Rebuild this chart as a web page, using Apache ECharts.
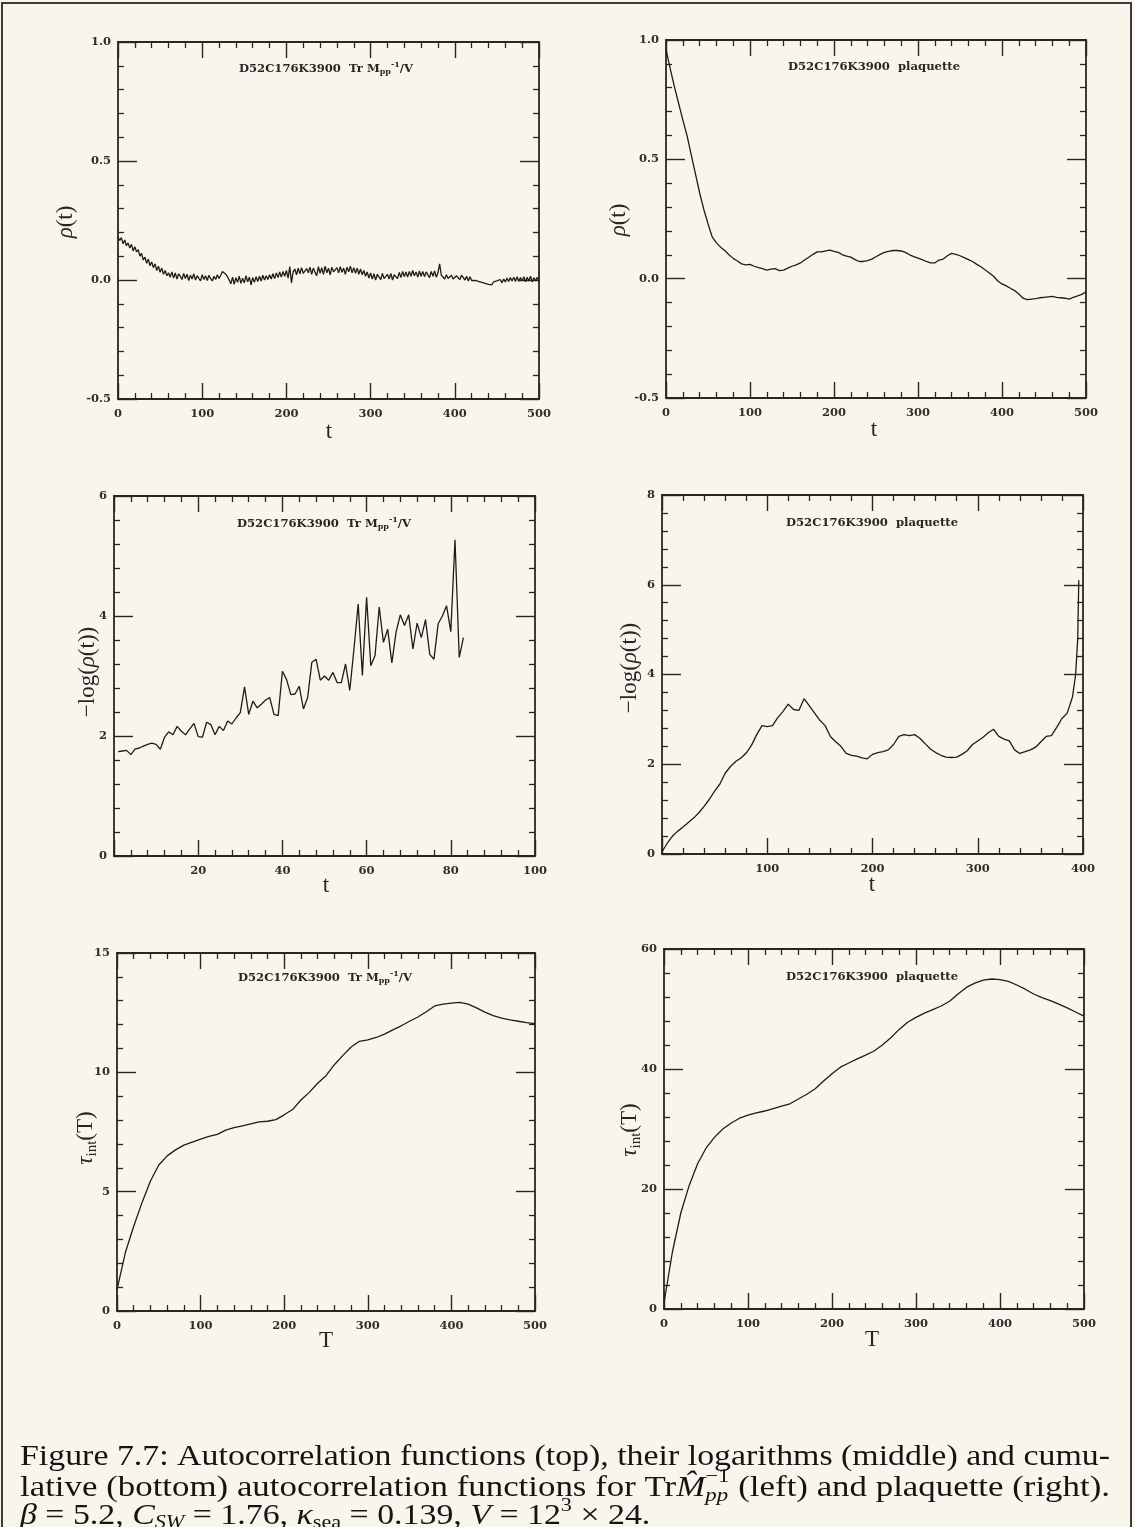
<!DOCTYPE html>
<html><head><meta charset="utf-8">
<script src="https://cdn.jsdelivr.net/npm/echarts@6/dist/echarts.min.js"></script>
<style>html,body{margin:0;padding:0;background:#f8f6ec;}#c{width:1134px;height:1527px;}</style>
</head><body><div id="c"></div>
<script>
// ---------- DATA ----------
// Top-left: autocorrelation of Tr M_pp^-1/V
const tTrM = [0,2,4,6,8,10,12,14,16,18,20,22,24,26,28,30,32,34,36,38,40,42,44,46,48,50,52,54,56,58,60,
62,64,66,68,70,72,74,76,78,80,82,84,86,88,90,92,94,96,98,100,102,104,106,108,110,112,114,116,118,120,
122,124,126,128,130,132,
134,136,138,140,142,144,146,148,150,152,154,156,158,160,162,164,166,168,170,172,174,176,178,180,
182,184,186,188,190,192,194,196,198,200,202,204,206,208,
210,212,214,216,218,220,222,224,226,228,230,232,234,236,238,240,242,244,246,248,250,252,254,256,258,260,262,264,266,268,270,272,274,276,278,280,282,284,286,288,290,
292,294,296,298,300,302,304,306,308,310,312,314,316,318,320,322,324,326,328,330,332,334,336,338,340,
342,344,346,348,350,352,354,356,358,360,362,364,366,368,370,372,374,376,378,380,382,384,
386,388,390,392,394,396,398,400,402,404,406,408,410,412,414,416,418,420,
422,424,426,428,430,432,434,436,438,440,442,444,446,448,450,
452,454,456,458,460,462,464,466,468,470,472,474,476,478,480,482,484,486,488,490,492,494,496,498,500];
const rhoTrM = [0.182,0.166,0.178,0.152,0.168,0.144,0.156,0.134,0.150,0.122,0.140,0.118,0.128,0.100,0.112,0.084,0.096,0.070,0.088,0.060,0.076,0.052,0.068,0.040,0.058,0.032,0.050,0.024,0.040,0.018,0.030,
0.012,0.034,0.008,0.030,0.004,0.026,0.016,0.002,0.028,0.006,0.024,-0.002,0.020,0.004,0.026,0.000,0.018,0.010,-0.004,0.022,0.002,0.018,-0.002,0.020,0.006,-0.004,0.016,0.002,0.022,0.006,
0.020,0.036,0.044,0.024,0.014,0.000,
-0.016,0.012,-0.018,0.010,-0.010,0.016,-0.014,0.008,-0.012,0.018,-0.008,0.012,-0.020,0.010,-0.010,0.014,-0.006,0.016,-0.004,0.020,0.000,0.018,0.002,0.022,
0.004,0.026,0.006,0.030,0.010,0.034,0.012,0.036,0.016,0.040,0.008,0.056,-0.012,0.034,
0.046,0.022,0.050,0.026,0.052,0.028,0.020,0.048,0.030,0.054,0.024,0.050,0.032,0.018,0.056,0.028,0.052,0.024,0.058,0.030,0.050,0.022,0.054,0.034,0.026,0.052,0.030,0.056,0.032,0.050,0.024,0.054,0.034,0.058,0.030,0.052,0.028,0.050,0.024,0.046,0.022,
0.040,0.016,0.034,0.008,0.030,0.004,0.026,0.000,0.024,0.030,0.002,0.028,0.006,-0.002,0.024,0.004,0.028,0.000,0.022,0.030,0.006,0.032,0.010,0.036,0.014,
0.034,0.012,0.036,0.016,0.040,0.018,0.034,0.012,0.038,0.016,0.036,0.014,0.034,0.040,0.010,0.036,0.016,0.038,0.012,0.030,0.068,0.020,
0.024,0.004,0.022,0.006,0.000,0.020,0.004,-0.002,0.018,0.022,0.002,0.020,0.024,0.000,0.016,-0.004,0.014,-0.002,
0.004,-0.002,0.000,-0.006,-0.002,-0.010,-0.006,-0.014,-0.010,-0.018,-0.012,-0.020,-0.008,-0.016,-0.004,
-0.012,0.002,-0.012,0.004,-0.008,0.008,-0.006,0.010,-0.004,0.012,-0.006,0.014,-0.006,0.010,-0.004,0.014,-0.008,0.012,-0.004,0.016,-0.008,0.010,-0.004,0.012,-0.008];

// Top-right: autocorrelation of plaquette
const tPlaq = [0,5,10,15,20,25,30,35,40,45,50,55,60,65,70,75,80,85,90,95,100,105,110,115,120,125,130,135,140,145,150,155,160,165,170,175,180,185,190,195,200,205,210,215,220,225,230,235,240,245,250,255,260,265,270,275,280,285,290,295,300,305,310,315,320,325,330,335,340,345,350,355,360,365,370,375,380,385,390,395,400,405,410,415,420,425,430,435,440,445,450,455,460,465,470,475,480,485,490,495,500];
const rhoPlaq = [0.960,0.880,0.805,0.735,0.665,0.600,0.520,0.440,0.360,0.290,
0.230,0.175,0.150,0.132,0.118,0.100,0.085,0.074,0.062,0.058,
0.060,0.052,0.046,0.042,0.036,0.040,0.042,0.034,0.036,0.044,
0.052,0.058,0.066,0.078,0.090,0.102,0.112,0.112,0.116,0.120,
0.114,0.110,0.100,0.094,0.090,0.080,0.072,0.072,0.076,0.082,
0.092,0.102,0.110,0.114,0.118,0.118,0.116,0.110,0.100,0.092,
0.086,0.080,0.072,0.066,0.066,0.078,0.082,0.096,0.106,0.102,
0.096,0.088,0.080,0.072,0.060,0.050,0.036,0.024,0.010,-0.010,
-0.022,-0.030,-0.040,-0.050,-0.064,-0.082,-0.088,-0.086,-0.084,-0.080,
-0.078,-0.076,-0.074,-0.078,-0.080,-0.082,-0.086,-0.078,-0.072,-0.066,
-0.055];

// Middle-left: -log(rho) of Tr M
const tLogTrM = [1,2,3,4,5,6,7,8,9,10,11,12,13,14,15,16,17,18,19,20,21,22,23,24,25,26,27,28,29,30,31,32,33,34,35,36,37,38,39,40,41,42,43,44,45,46,47,48,49,50,51,52,53,54,55,56,57,58,59,60,61,62,63,64,65,66,67,68,69,70,71,72,73,74,75,76,77,78,79,80,81,82,83];
const logTrM = [1.74,1.75,1.76,1.69,1.78,1.80,1.83,1.86,1.88,1.86,
1.78,1.98,2.07,2.02,2.16,2.08,2.02,2.12,2.21,1.99,
1.98,2.23,2.19,2.02,2.16,2.09,2.25,2.20,2.30,2.39,
2.82,2.36,2.58,2.47,2.53,2.60,2.64,2.36,2.34,3.08,
2.94,2.69,2.70,2.83,2.45,2.64,3.23,3.28,2.93,3.00,
2.93,3.06,2.89,2.89,3.20,2.76,3.45,4.20,3.01,4.31,
3.17,3.34,4.15,3.56,3.78,3.22,3.73,4.02,3.84,4.02,
3.45,3.88,3.64,3.94,3.36,3.28,3.87,4.00,4.17,3.74,
5.27,3.31,3.64];

// Middle-right: -log(rho) of plaquette
const tLogPlaq = [0,5,10,15,20,25,30,35,40,45,50,55,60,65,70,75,80,85,90,95,100,105,110,115,120,125,130,135,140,145,150,155,160,165,170,175,180,185,190,195,200,205,210,215,220,225,230,235,240,245,250,255,260,265,270,275,280,285,290,295,300,305,310,315,320,325,330,335,340,345,350,355,360,365,370,375,380,385,390,393,395,396];
const logPlaq = [0.05,0.24,0.40,0.51,0.60,0.70,0.80,0.92,1.06,1.22,
1.40,1.56,1.80,1.95,2.06,2.14,2.25,2.42,2.66,2.86,
2.84,2.86,3.04,3.18,3.34,3.22,3.20,3.46,3.30,3.14,
2.98,2.86,2.62,2.50,2.40,2.24,2.20,2.18,2.14,2.12,
2.22,2.26,2.28,2.32,2.44,2.62,2.66,2.64,2.66,2.58,
2.46,2.34,2.26,2.20,2.16,2.15,2.16,2.22,2.30,2.44,
2.52,2.60,2.70,2.78,2.62,2.56,2.52,2.32,2.24,2.28,
2.32,2.38,2.50,2.62,2.64,2.82,3.02,3.14,3.50,4.00,4.80,6.10];

// Bottom: integrated autocorrelation time
const tCum = [0,10,20,30,40,50,60,70,80,90,100,110,120,130,140,150,160,170,180,190,200,210,220,230,240,250,260,270,280,290,300,310,320,330,340,350,360,370,380,390,400,410,420,430,440,450,460,470,480,490,500];
const tauTrM = [0.90,2.45,3.55,4.55,5.45,6.12,6.50,6.75,6.95,7.08,
7.20,7.32,7.40,7.58,7.68,7.76,7.84,7.92,7.95,8.02,
8.22,8.44,8.84,9.16,9.54,9.86,10.32,10.70,11.06,11.30,
11.36,11.46,11.60,11.78,11.95,12.14,12.32,12.54,12.78,12.86,
12.90,12.93,12.86,12.70,12.52,12.38,12.27,12.20,12.14,12.08,12.04];
const tauPlaq = [1.0,9.5,16.0,20.6,24.2,26.8,28.6,30.0,31.0,31.8,
32.3,32.7,33.0,33.4,33.8,34.2,35.0,35.8,36.7,38.0,
39.2,40.3,41.0,41.7,42.3,43.0,44.0,45.2,46.6,47.8,
48.6,49.3,49.9,50.5,51.3,52.5,53.6,54.3,54.8,55.0,
54.9,54.6,54.0,53.3,52.5,51.9,51.4,50.8,50.2,49.5,48.8];

// Tick ranges [min, max, interval]
const xRange500 = [0, 500, 100];
const xRange100 = [0, 100, 20];
const xRange400 = [0, 400, 100];
const yRangeRho = [-0.5, 1, 0.5];
const yRangeLogTrM = [0, 6, 2];
const yRangeLogPlaq = [0, 8, 2];
const yRangeTauTrM = [0, 15, 5];
const yRangeTauPlaq = [0, 60, 20];

// ---------- LAYOUT ----------
const INK = '#262626';
const fonts = {
  t:  {fontFamily:'DejaVu Serif', fontWeight:'bold', fontStyle:'normal', fontSize:11.6},
  ts: {fontFamily:'DejaVu Serif', fontWeight:'bold', fontStyle:'normal', fontSize:8},
  n:  {fontFamily:'Liberation Serif', fontWeight:'normal', fontStyle:'normal', fontSize:23},
  ni: {fontFamily:'Liberation Serif', fontWeight:'normal', fontStyle:'italic', fontSize:23},
  ns: {fontFamily:'Liberation Serif', fontWeight:'normal', fontStyle:'normal', fontSize:15},
  c:  {fontFamily:'Liberation Serif', fontWeight:'normal', fontStyle:'normal', fontSize:29},
  ci: {fontFamily:'Liberation Serif', fontWeight:'normal', fontStyle:'italic', fontSize:29},
  cs: {fontFamily:'Liberation Serif', fontWeight:'normal', fontStyle:'normal', fontSize:19},
  csi:{fontFamily:'Liberation Serif', fontWeight:'normal', fontStyle:'italic', fontSize:19}
};
const mctx = document.createElement('canvas').getContext('2d');
function cssFont(f){ return f.fontStyle+' '+f.fontWeight+' '+f.fontSize+'px "'+f.fontFamily+'"'; }
function measure(s, f){ mctx.font = cssFont(fonts[f]); return mctx.measureText(s).width; }
function layout(tokens){
  let x = 0, pending = 0; const items = [];
  tokens.forEach(tok => {
    const w = measure(tok.s, tok.f);
    items.push({tok, x});
    if (tok.noAdv) pending = Math.max(pending, w);
    else { x += Math.max(w, pending); pending = 0; }
  });
  return {items, width: x};
}
function textEl(tok, x, y, sx, color){
  return {type:'text', x:x, y:y + (tok.dy||0), scaleX: sx||1, silent:true, z:50,
    style: Object.assign({text: tok.s, fill: color||INK, align:'left', verticalAlign:'middle'}, fonts[tok.f])};
}
function hLine(tokens, x0, y, sx, color){
  const L = layout(tokens);
  return L.items.map(it => textEl(it.tok, x0 + it.x*sx, y, sx, color));
}
function hCenter(tokens, cx, y){
  const L = layout(tokens);
  return hLine(tokens, cx - L.width/2, y, 1);
}
function vCenter(tokens, cx, cy){
  const L = layout(tokens);
  return {type:'group', x:cx, y:cy, rotation: Math.PI/2, silent:true,
    children: L.items.map(it => textEl(it.tok, -L.width/2 + it.x, 0, 1))};
}

const titleTrM = [{s:'D52C176K3900  Tr M', f:'t'}, {s:'pp', f:'ts', dy:3}, {s:'-1', f:'ts', dy:-4}, {s:'/V', f:'t'}];
const titlePlaq = [{s:'D52C176K3900  plaquette', f:'t'}];
const nameRho = [{s:'ρ', f:'ni'}, {s:'(t)', f:'n'}];
const nameLog = [{s:'−log(', f:'n'}, {s:'ρ', f:'ni'}, {s:'(t))', f:'n'}];
const nameTau = [{s:'τ', f:'ni'}, {s:'int', f:'ns', dy:6}, {s:'(T)', f:'n'}];

const panels = [
  {grid:{left:118, top:42, width:421, height:357}, x:xRange500, y:yRangeRho, dec:1, hideX0:false, t:tTrM, v:rhoTrM,
   title:titleTrM, tpos:[326,69], yname:nameRho, ypos:[66,222], xname:'t', xpos:[329,432]},
  {grid:{left:666, top:40, width:420, height:358}, x:xRange500, y:yRangeRho, dec:1, hideX0:false, t:tPlaq, v:rhoPlaq,
   title:titlePlaq, tpos:[874,67], yname:nameRho, ypos:[619,220], xname:'t', xpos:[874,430]},
  {grid:{left:114, top:496, width:421, height:360}, x:xRange100, y:yRangeLogTrM, dec:0, hideX0:true, t:tLogTrM, v:logTrM,
   title:titleTrM, tpos:[324,524], yname:nameLog, ypos:[88,672], xname:'t', xpos:[326,886]},
  {grid:{left:662, top:495, width:421, height:359}, x:xRange400, y:yRangeLogPlaq, dec:0, hideX0:true, t:tLogPlaq, v:logPlaq,
   title:titlePlaq, tpos:[872,523], yname:nameLog, ypos:[630,668], xname:'t', xpos:[872,885]},
  {grid:{left:117, top:953, width:418, height:358}, x:xRange500, y:yRangeTauTrM, dec:0, hideX0:false, t:tCum, v:tauTrM,
   title:titleTrM, tpos:[325,978], yname:nameTau, ypos:[86,1138], xname:'T', xpos:[326,1341]},
  {grid:{left:664, top:949, width:420, height:360}, x:xRange500, y:yRangeTauPlaq, dec:0, hideX0:false, t:tCum, v:tauPlaq,
   title:titlePlaq, tpos:[872,977], yname:nameTau, ypos:[630,1130], xname:'T', xpos:[872,1340]}
];

const axisLine = {show:true, onZero:false, lineStyle:{color:INK, width:1.8}};
const labelStyle = {fontFamily:'DejaVu Serif', fontWeight:'bold', fontSize:11.5, color:'#2e2e2e'};
const grids = [], xAxes = [], yAxes = [], series = [], graphic = [];

panels.forEach((p, i) => {
  grids.push(Object.assign({containLabel:false, outerBoundsMode:'none'}, p.grid));
  const xBase = {type:'value', gridIndex:i, min:p.x[0], max:p.x[1], interval:p.x[2], axisLine,
    axisTick:{show:true, inside:true, length:16, lineStyle:{color:INK, width:1.4}},
    minorTick:{show:true, splitNumber:5, length:6, lineStyle:{color:INK, width:1.3}},
    splitLine:{show:false}, minorSplitLine:{show:false}};
  xAxes.push(Object.assign({}, xBase, {position:'bottom',
    axisLabel:Object.assign({show:true, margin:9, showMinLabel:!p.hideX0, showMaxLabel:true, formatter:v=>String(v)}, labelStyle)}));
  xAxes.push(Object.assign({}, xBase, {position:'top', axisLabel:{show:false}}));
  const yBase = {type:'value', gridIndex:i, min:p.y[0], max:p.y[1], interval:p.y[2], axisLine,
    axisTick:{show:true, inside:true, length:19, lineStyle:{color:INK, width:1.4}},
    minorTick:{show:true, splitNumber:5, length:6, lineStyle:{color:INK, width:1.3}},
    splitLine:{show:false}, minorSplitLine:{show:false}};
  yAxes.push(Object.assign({}, yBase, {position:'left',
    axisLabel:Object.assign({show:true, margin:7, showMinLabel:true, showMaxLabel:true, formatter:v=>v.toFixed(p.dec)}, labelStyle)}));
  yAxes.push(Object.assign({}, yBase, {position:'right', axisLabel:{show:false}}));
  series.push({type:'line', xAxisIndex:2*i, yAxisIndex:2*i, data:p.t.map((t,k)=>[t, p.v[k]]),
    symbol:'none', showSymbol:false, silent:true, clip:true, lineStyle:{color:'#1c1c1c', width:1.3}});
  hCenter(p.title, p.tpos[0], p.tpos[1]).forEach(e => graphic.push(e));
  graphic.push(vCenter(p.yname, p.ypos[0], p.ypos[1]));
  hCenter([{s:p.xname, f:'n'}], p.xpos[0], p.xpos[1]).forEach(e => graphic.push(e));
});

// Caption
const cap1 = [{s:'Figure 7.7: Autocorrelation functions (top), their logarithms (middle) and cumu-', f:'c'}];
const cap2 = [{s:'lative (bottom) autocorrelation functions for Tr', f:'c'}, {s:'M\u0302', f:'ci'},
  {s:'−1', f:'cs', dy:-11, noAdv:true}, {s:'pp', f:'csi', dy:8}, {s:' (left) and plaquette (right).', f:'c'}];
const cap3 = [{s:'β', f:'ci'}, {s:' = 5.2, ', f:'c'}, {s:'C', f:'ci'}, {s:'SW', f:'csi', dy:7}, {s:' = 1.76, ', f:'c'},
  {s:'κ', f:'ci'}, {s:'sea', f:'cs', dy:7}, {s:' = 0.139, ', f:'c'}, {s:'V', f:'ci'}, {s:' = 12', f:'c'}, {s:'3', f:'cs', dy:-10}, {s:' × 24.', f:'c'}];
const capLeft = 20, capWidth = 1090;
const s1 = capWidth / layout(cap1).width;
const s2 = capWidth / layout(cap2).width;
hLine(cap1, capLeft, 1457, s1, '#141414').forEach(e => graphic.push(e));
hLine(cap2, capLeft, 1488, s2, '#141414').forEach(e => graphic.push(e));
hLine(cap3, capLeft, 1516, s1, '#141414').forEach(e => graphic.push(e));

// page frame
graphic.push({type:'rect', silent:true, z:60, shape:{x:2, y:3, width:1129, height:1600},
  style:{fill:'none', stroke:'#3a3a3a', lineWidth:2}});

const chart = echarts.init(document.getElementById('c'), null, {renderer:'canvas'});
chart.setOption({
  backgroundColor:'#f8f6ec', animation:false,
  grid:grids, xAxis:xAxes, yAxis:yAxes, series:series, graphic:graphic
});
</script></body></html>
